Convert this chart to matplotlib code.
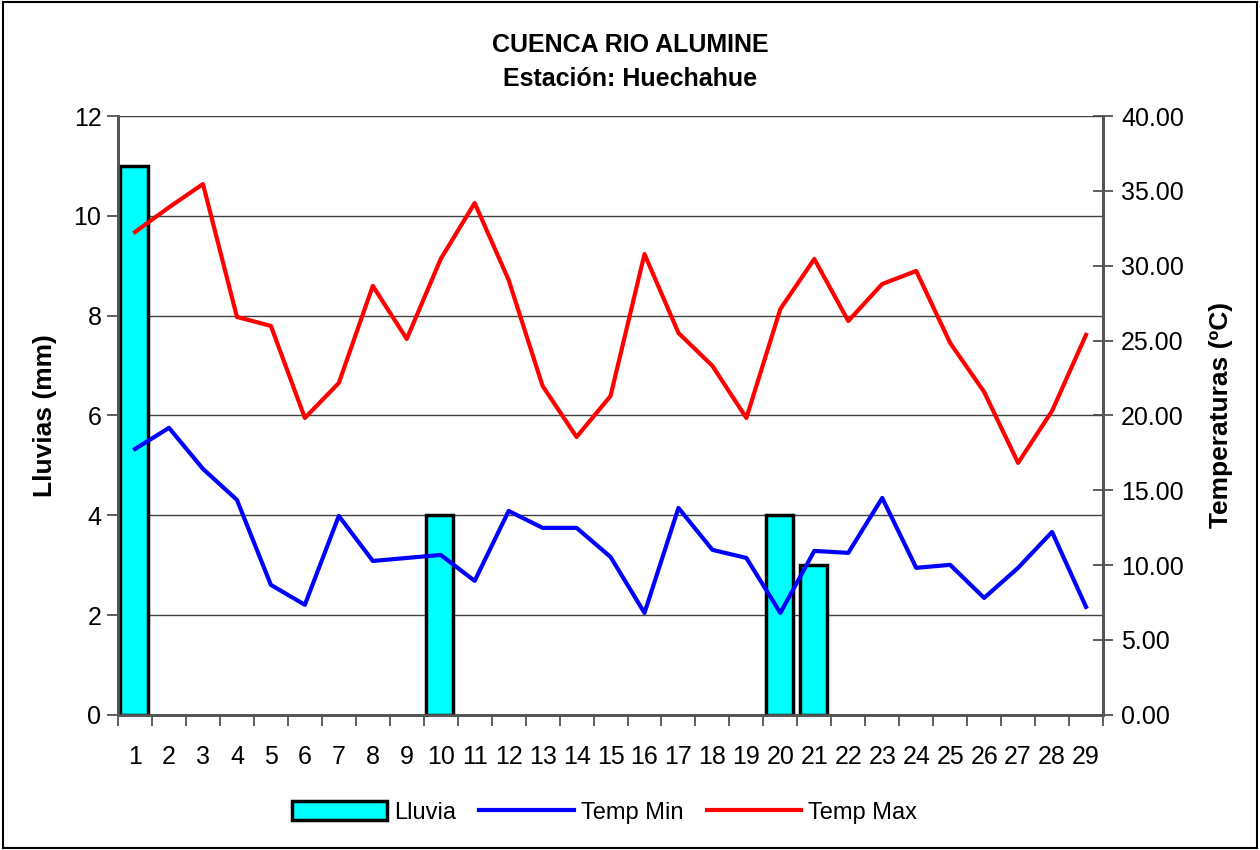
import matplotlib.pyplot as plt
from matplotlib.patches import Rectangle
import numpy as np

plt.rcParams['font.family'] = ['Liberation Sans', 'DejaVu Sans']

dias = list(range(1, 30))
lluvia = [11, 0, 0, 0, 0, 0, 0, 0, 0, 4, 0, 0, 0, 0, 0, 0, 0, 0, 0, 4, 3, 0, 0, 0, 0, 0, 0, 0, 0]
temp_min = [17.76, 19.17, 16.43, 14.36, 8.68, 7.35, 13.29, 10.28, 10.48, 10.68,
            8.95, 13.62, 12.49, 12.49, 10.55, 6.81, 13.82, 11.02, 10.48, 6.81,
            10.95, 10.82, 14.49, 9.82, 10.02, 7.81, 9.82, 12.22, 7.21]
temp_max = [32.25, 33.90, 35.46, 26.58, 25.98, 19.83, 22.17, 28.65, 25.11, 30.45,
            34.19, 29.05, 21.97, 18.56, 21.30, 30.78, 25.51, 23.31, 19.83, 27.11,
            30.45, 26.31, 28.78, 29.65, 24.84, 21.57, 16.83, 20.30, 25.38]

fig = plt.figure(figsize=(12.6, 8.5), dpi=100)
ax = fig.add_axes([0.0937, 0.159, 0.7817, 0.7045])
ax2 = ax.twinx()

x = np.array(dias)
ll = np.array(lluvia, dtype=float)
con = ll > 0  # dias con lluvia (Excel no dibuja barras de altura 0)
ax.bar(x[con] - 0.03, ll[con], width=0.8, color='#00ffff', edgecolor='black',
       linewidth=2.5, label='Lluvia', zorder=3)
ax.set_ylim(0, 12)
ax.set_yticks(range(0, 13, 2))
ax.set_xlim(0.5, 29.5)
ax.set_xticks(x)
ax.set_xticklabels([str(d) for d in dias])
ax.set_xticks(np.arange(0.5, 30, 1), minor=True)
ax.tick_params(axis='x', which='major', length=0, pad=22, labelsize=18)
ax.tick_params(axis='x', which='minor', length=8, width=1.2, color='#444444')
ax.tick_params(axis='y', length=8, width=1.2, color='#444444', labelsize=18, pad=4)
ax.grid(axis='y', color='#404040', linewidth=1, zorder=0)
ax.set_axisbelow(True)
ax.set_ylabel('Lluvias (mm)', fontsize=19, fontweight='bold', labelpad=12)

ax2.plot(x, temp_min, color='#0000ff', linewidth=3, label='Temp Min', zorder=4)
ax2.plot(x, temp_max, color='#ff0000', linewidth=3, label='Temp Max', zorder=4)
ax2.set_ylim(0, 40)
ax2.set_yticks(range(0, 41, 5))
ax2.set_yticklabels(['%.2f' % v for v in range(0, 41, 5)])
ax2.tick_params(axis='y', direction='inout', length=14, width=1.2, color='#444444',
                labelsize=18, pad=6)
ax2.set_ylabel('Temperaturas (ºC)', fontsize=19, fontweight='bold', labelpad=18)

for a in (ax, ax2):
    a.spines['top'].set_visible(False)
    a.spines['left'].set_color('#555555')
    a.spines['right'].set_color('#555555')
    a.spines['bottom'].set_color('#555555')
    for s in a.spines.values():
        s.set_linewidth(2)

fig.text(0.5, 0.947, 'CUENCA RIO ALUMINE', ha='center', va='center',
         fontsize=18, fontweight='bold')
fig.text(0.5, 0.907, 'Estación: Huechahue', ha='center', va='center',
         fontsize=18, fontweight='bold')

h1, l1 = ax.get_legend_handles_labels()
h2, l2 = ax2.get_legend_handles_labels()
fig.legend(h1 + h2, l1 + l2, loc='center', bbox_to_anchor=(0.48, 0.044), ncol=3,
           frameon=False, fontsize=17, handlelength=4.0, handleheight=0.85,
           columnspacing=1.0, handletextpad=0.3)

fig.patches.append(Rectangle((0.002, 0.002), 0.996, 0.996, transform=fig.transFigure,
                             fill=False, edgecolor='black', linewidth=1.5))

fig.savefig('out.png', dpi=100)
